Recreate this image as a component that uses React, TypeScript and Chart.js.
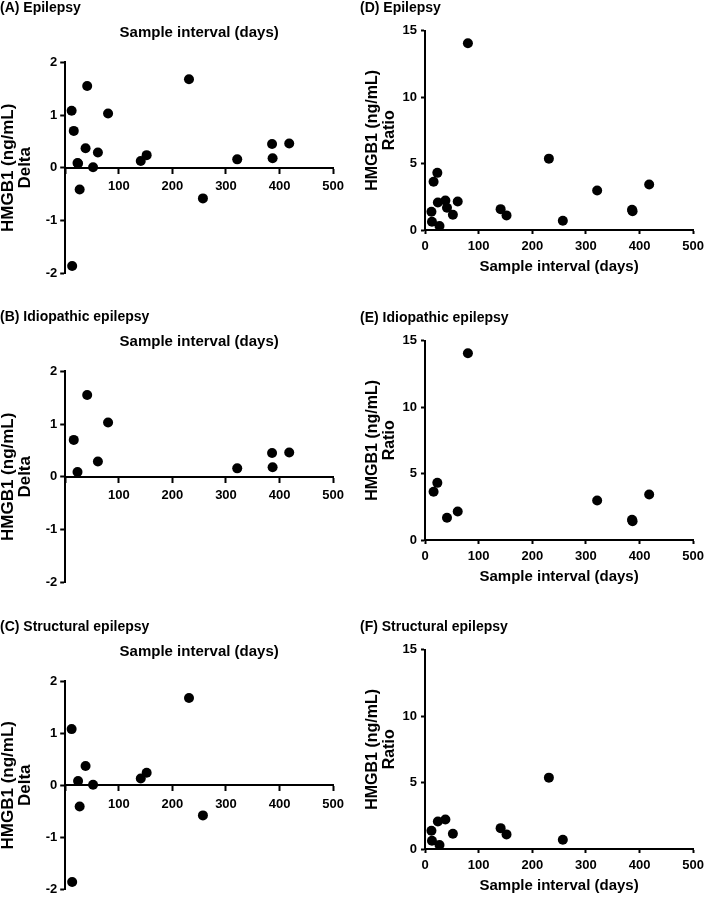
import React, { useEffect, useRef } from "react";
import { Chart, registerables } from "chart.js";

Chart.register(...registerables);

const FONT = "'Liberation Sans', Arial, Helvetica, sans-serif";

// ---- data ----
const idiopathicDays = [16, 23, 41, 61, 80, 321, 386, 387, 418];
const idiopathicDelta = [0.7, 0.09, 1.55, 0.29, 1.03, 0.16, 0.45, 0.18, 0.46];
const idiopathicRatio = [3.63, 4.3, 1.67, 2.15, 14.05, 2.97, 1.52, 1.42, 3.42];

const structuralDays = [12, 13, 24, 27, 38, 52, 141, 152, 231, 257];
const structuralDelta = [1.08, -1.86, 0.08, -0.41, 0.37, 0.01, 0.13, 0.24, 1.68, -0.58];
const structuralRatio = [1.38, 0.62, 2.07, 0.3, 2.22, 1.15, 1.57, 1.1, 5.37, 0.7];

const xAxisTitle = "Sample interval (days)";
const yAxisUnit = "HMGB1 (ng/mL)";
const xRange = [0, 500];
const xStep = 100;
const deltaRange = [-2, 2];
const deltaStep = 1;
const ratioRange = [0, 15];
const ratioStep = 5;

type Kind = "delta" | "ratio";
interface PanelSpec {
  label: string;
  kind: Kind;
  days: number[];
  values: number[];
  left: number;
  top: number;
  width: number;
  height: number;
}

const panels: PanelSpec[] = [
  { label: "(A) Epilepsy", kind: "delta", days: idiopathicDays.concat(structuralDays), values: idiopathicDelta.concat(structuralDelta), left: 0, top: 0, width: 350, height: 295 },
  { label: "(B) Idiopathic epilepsy", kind: "delta", days: idiopathicDays, values: idiopathicDelta, left: 0, top: 309.4, width: 350, height: 295 },
  { label: "(C) Structural epilepsy", kind: "delta", days: structuralDays, values: structuralDelta, left: 0, top: 619, width: 350, height: 281 },
  { label: "(D) Epilepsy", kind: "ratio", days: idiopathicDays.concat(structuralDays), values: idiopathicRatio.concat(structuralRatio), left: 350, top: 0, width: 359, height: 281 },
  { label: "(E) Idiopathic epilepsy", kind: "ratio", days: idiopathicDays, values: idiopathicRatio, left: 350, top: 310, width: 359, height: 281 },
  { label: "(F) Structural epilepsy", kind: "ratio", days: structuralDays, values: structuralRatio, left: 350, top: 619.3, width: 359, height: 281 },
];

const black = "#000";
const tickFont = { family: FONT, size: 13, weight: "bold" as const };

function buildConfig(spec: PanelSpec): any {
  const isDelta = spec.kind === "delta";
  const points = spec.days.map((d, i) => ({ x: d, y: spec.values[i] }));
  const tickLen = isDelta ? 5 : 4;
  const grid = {
    display: true,
    drawOnChartArea: false,
    drawTicks: true,
    tickLength: tickLen,
    tickWidth: 2,
    tickColor: black,
  };
  const border = { display: true, color: black, width: 2 };

  const xScale: any = {
    type: "linear",
    min: xRange[0],
    max: xRange[1],
    grid,
    border,
    ticks: {
      stepSize: xStep,
      autoSkip: false,
      maxRotation: 0,
      color: black,
      font: tickFont,
      padding: isDelta ? 6 : 5,
      callback: (v: number) => (isDelta && v === 0 ? "" : String(v)),
    },
  };
  if (isDelta) {
    xScale.position = { y: 0 };
  } else {
    xScale.position = "bottom";
    xScale.title = {
      display: true,
      text: xAxisTitle,
      color: black,
      font: { family: FONT, size: 15, weight: "bold", lineHeight: 1.2 },
      padding: { top: 0, bottom: 5.5 },
    };
    xScale.afterFit = (s: any) => {
      s.height = spec.height - 230;
    };
  }

  const yScale: any = {
    type: "linear",
    position: "left",
    min: isDelta ? deltaRange[0] : ratioRange[0],
    max: isDelta ? deltaRange[1] : ratioRange[1],
    grid,
    border,
    ticks: {
      stepSize: isDelta ? deltaStep : ratioStep,
      color: black,
      font: tickFont,
      padding: isDelta ? 3 : 4,
    },
    title: {
      display: true,
      text: [yAxisUnit, isDelta ? "Delta" : "Ratio"],
      color: black,
      font: { family: FONT, size: isDelta ? 17 : 16, weight: "bold", lineHeight: isDelta ? 0.98 : 1.05 },
      padding: { top: isDelta ? 0 : 4, bottom: 0 },
    },
    afterFit: (s: any) => {
      s.width = isDelta ? 65.2 : 65;
    },
  };

  return {
    type: "scatter",
    data: {
      datasets: [
        {
          data: points,
          pointRadius: 5,
          pointHoverRadius: 5,
          pointBackgroundColor: black,
          pointBorderWidth: 0,
          showLine: false,
          clip: false,
        },
      ],
    },
    options: {
      responsive: false,
      animation: false,
      devicePixelRatio: 1,
      layout: {
        padding: isDelta
          ? { left: 0, right: 12.3, top: 0, bottom: spec.height - 273.3 }
          : { left: 10, right: 12.3, top: 0, bottom: 0 },
      },
      plugins: {
        legend: { display: false },
        tooltip: { enabled: false },
        title: {
          display: true,
          text: spec.label,
          align: "start",
          color: black,
          font: { family: FONT, size: 14, weight: "bold", lineHeight: 1.2 },
          padding: { top: 0, bottom: isDelta ? 4 : 13.9 },
        },
        subtitle: {
          display: isDelta,
          text: xAxisTitle,
          fullSize: false,
          color: black,
          font: { family: FONT, size: 15, weight: "bold", lineHeight: 1.2 },
          padding: { top: 3.2, bottom: 20.3 },
        },
      },
      scales: { x: xScale, y: yScale },
    },
  };
}

function Panel({ spec }: { spec: PanelSpec }) {
  const ref = useRef<HTMLCanvasElement>(null);
  useEffect(() => {
    if (!ref.current) return;
    const chart = new Chart(ref.current, buildConfig(spec));
    return () => chart.destroy();
  }, [spec]);
  return (
    <canvas
      ref={ref}
      width={spec.width}
      height={spec.height}
      style={{ position: "absolute", left: spec.left, top: spec.top, width: spec.width, height: spec.height }}
    />
  );
}

export default function App() {
  return (
    <div style={{ position: "absolute", left: 0, top: 0, width: 709, height: 900, background: "#fff", overflow: "hidden" }}>
      {panels.map((p) => (
        <Panel key={p.label} spec={p} />
      ))}
    </div>
  );
}
